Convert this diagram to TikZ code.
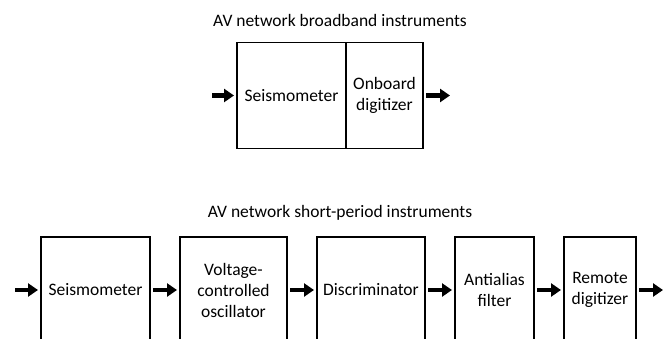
\documentclass[tikz,border=0pt]{standalone}
\usepackage{fontspec}
\setmainfont{Carlito}
\usetikzlibrary{positioning, arrows.meta}

\begin{document}
\begin{tikzpicture}[x=1pt, y=-1pt, node distance=30pt,
  font=\fontsize{17.5}{21}\selectfont,
  blk/.style={draw, line width=1.7pt, outer sep=0pt, inner sep=0pt, minimum height=106pt, align=center},
  flow/.style={line width=4.5pt, -{Triangle[length=10pt, width=13pt]}, shorten <=3pt, shorten >=3pt}]
  \useasboundingbox (0,0) rectangle (671,339);
  \clip (0,0) rectangle (671,339);
  % broadband chain
  \node (bbtitle) at (340,20) {AV network broadband instruments};
  \node[blk, minimum width=109pt] (bbseis) at (291.5,95.5) {Seismometer};
  \node[blk, minimum width=77pt, right=0pt of bbseis] (bbdig) {Onboard\\digitizer};
  \coordinate[left=28pt of bbseis] (bbin);
  \coordinate[right=30pt of bbdig] (bbout);
  \draw[flow] (bbin) -- (bbseis);
  \draw[flow] (bbdig) -- (bbout);
  % short-period chain
  \node (sptitle) at (340,213) {AV network short-period instruments};
  \node[blk, minimum width=109pt] (spseis) at (95.5,290) {Seismometer};
  \node[blk, minimum width=107pt, right=of spseis] (spvco) {Voltage-\\controlled\\oscillator};
  \node[blk, minimum width=108pt, right=of spvco] (spdisc) {Discriminator};
  \node[blk, minimum width=79pt, right=of spdisc] (spfilt) {Antialias\\filter};
  \node[blk, minimum width=72pt, right=of spfilt] (spdig) {Remote\\digitizer};
  \coordinate[left=29pt of spseis] (spin);
  \coordinate[right=30pt of spdig] (spout);
  \draw[flow] (spin) -- (spseis);
  \draw[flow] (spseis) -- (spvco);
  \draw[flow] (spvco) -- (spdisc);
  \draw[flow] (spdisc) -- (spfilt);
  \draw[flow] (spfilt) -- (spdig);
  \draw[flow] (spdig) -- (spout);
\end{tikzpicture}
\end{document}
